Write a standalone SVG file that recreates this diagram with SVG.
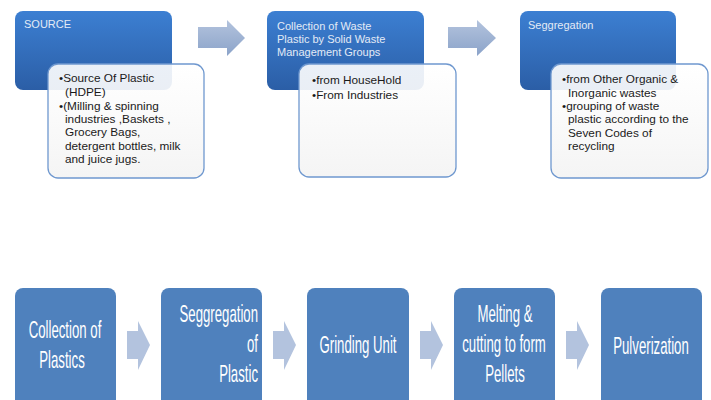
<svg xmlns="http://www.w3.org/2000/svg" width="711" height="400" viewBox="0 0 711 400">
<defs>
<linearGradient id="gBlue" x1="0" y1="0" x2="0" y2="1">
<stop offset="0" stop-color="#3c7fd2"/>
<stop offset="1" stop-color="#2b5ea6"/>
</linearGradient>
<linearGradient id="gArrow" x1="0" y1="0" x2="0" y2="1">
<stop offset="0" stop-color="#b3c3dd"/>
<stop offset="1" stop-color="#8ba3c9"/>
</linearGradient>
<linearGradient id="gWhite" x1="0" y1="0" x2="0" y2="1">
<stop offset="0" stop-color="#ffffff" stop-opacity="0.9"/>
<stop offset="1" stop-color="#f4f4f4" stop-opacity="0.95"/>
</linearGradient>
</defs>
<style>
.hdr{fill:url(#gBlue);}
.sub{fill:url(#gWhite);stroke:#6f98cf;stroke-width:1.3;}
.ht{font-family:"Liberation Sans",Arial,sans-serif;font-size:11px;fill:#e3ebf6;}
.st{font-family:"Liberation Sans",Arial,sans-serif;font-size:11.8px;fill:#1a1a1a;}
.bx{fill:#4f81bd;}
.bt{font-family:"Liberation Sans",Arial,sans-serif;font-size:24px;fill:#ffffff;}
.ta{fill:url(#gArrow);}
.ba{fill:#b3c3de;}
</style>
<g id="connectors">
<path class="ta" d="M198,27 H227 V20 L245,38 L227,56 V48 H198 Z"/>
<path class="ta" d="M448,27 H477 V20 L496,38 L477,56 V48 H448 Z"/>
<path class="ba" d="M127,331 H138 V321 L150,345 L138,370 V359 H127 Z"/>
<path class="ba" d="M273,331 H284 V321 L296,345 L284,370 V359 H273 Z"/>
<path class="ba" d="M420,331 H431 V321 L443,345 L431,370 V359 H420 Z"/>
<path class="ba" d="M566,331 H577 V321 L589,345 L577,370 V359 H566 Z"/>
</g>
<g id="source">
<rect class="hdr" x="15" y="11" width="157" height="79" rx="8"/>
<text class="ht" x="24" y="28">SOURCE</text>
<rect class="sub" x="48" y="64" width="156" height="114" rx="10"/>
<text class="st"><tspan x="59" y="82">•Source Of Plastic</tspan><tspan x="65" y="95.5">(HDPE)</tspan><tspan x="59" y="109.5">•(Milling &amp; spinning</tspan><tspan x="65" y="123">industries ,Baskets ,</tspan><tspan x="65" y="136">Grocery Bags,</tspan><tspan x="65" y="149.5">detergent bottles, milk</tspan><tspan x="65" y="163">and juice jugs.</tspan></text>
</g>
<g id="collection">
<rect class="hdr" x="267" y="11" width="157" height="79" rx="8"/>
<text class="ht"><tspan x="277" y="30">Collection of Waste</tspan><tspan x="277" y="43">Plastic by Solid Waste</tspan><tspan x="277" y="56">Management Groups</tspan></text>
<rect class="sub" x="299" y="64" width="157" height="113" rx="10"/>
<text class="st"><tspan x="312" y="84">•from HouseHold</tspan><tspan x="312" y="99">•From Industries</tspan></text>
</g>
<g id="seggregation">
<rect class="hdr" x="520" y="11" width="156" height="79" rx="8"/>
<text class="ht" x="528" y="29">Seggregation</text>
<rect class="sub" x="551" y="64" width="157" height="114" rx="10"/>
<text class="st"><tspan x="562" y="83">•from Other Organic &amp;</tspan><tspan x="568" y="96.5">Inorganic wastes</tspan><tspan x="562" y="110">•grouping of waste</tspan><tspan x="568" y="123">plastic according to the</tspan><tspan x="568" y="136.5">Seven Codes of</tspan><tspan x="568" y="150">recycling</tspan></text>
</g>
<g id="b1">
<rect class="bx" x="15" y="288" width="101" height="120" rx="8"/>
<text class="bt" text-anchor="middle" transform="translate(65,338) scale(0.55,1)">Collection of</text>
<text class="bt" text-anchor="middle" transform="translate(62,368) scale(0.55,1)">Plastics</text>
</g>
<g id="b2">
<rect class="bx" x="161" y="288" width="101" height="120" rx="8"/>
<text class="bt" text-anchor="end" transform="translate(258,322) scale(0.55,1)">Seggregation</text>
<text class="bt" text-anchor="end" transform="translate(258,352) scale(0.55,1)">of</text>
<text class="bt" text-anchor="end" transform="translate(258,382) scale(0.55,1)">Plastic</text>
</g>
<g id="b3">
<rect class="bx" x="307" y="288" width="102" height="120" rx="8"/>
<text class="bt" text-anchor="middle" transform="translate(358,353) scale(0.55,1)">Grinding Unit</text>
</g>
<g id="b4">
<rect class="bx" x="454" y="288" width="101" height="120" rx="8"/>
<text class="bt" text-anchor="middle" transform="translate(505,322) scale(0.55,1)">Melting &amp;</text>
<text class="bt" text-anchor="middle" transform="translate(504,352) scale(0.55,1)">cutting to form</text>
<text class="bt" text-anchor="middle" transform="translate(505,382) scale(0.55,1)">Pellets</text>
</g>
<g id="b5">
<rect class="bx" x="601" y="288" width="101" height="120" rx="8"/>
<text class="bt" text-anchor="middle" transform="translate(651,354) scale(0.55,1)">Pulverization</text>
</g>
</svg>
